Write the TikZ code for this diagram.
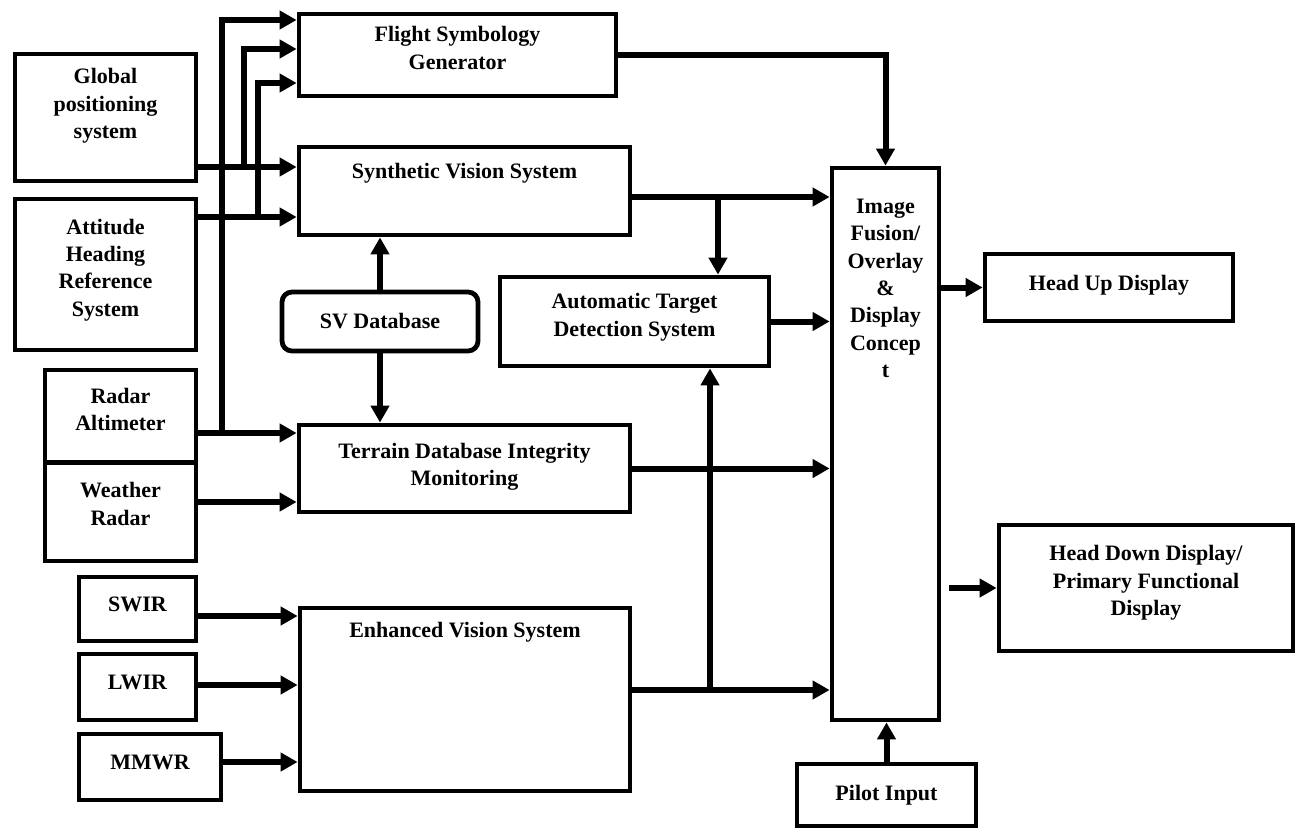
\documentclass[tikz,border=0pt]{standalone}
\usepackage{fontspec}
\setmainfont{Liberation Serif}
\usetikzlibrary{arrows.meta,positioning}

\begin{document}
\begin{tikzpicture}[
		x=0.5pt, y=-0.5pt,
		blk/.style={draw, line width=2.4pt, inner sep=2pt, align=center,
			font=\bfseries\fontsize{11}{13.7}\selectfont},
		txt/.style={inner sep=0pt, align=center,
			font=\bfseries\fontsize{11}{13.7}\selectfont},
		lift/.style={text depth=#1},                 % pushes the text a bit upwards in its box
		arr/.style={line width=3pt, -{Triangle[length=8.5pt,width=9pt]}}
	]
	\useasboundingbox (0,0) rectangle (1296,829);

	% sensors on the left
	\node[blk, minimum width=90.5pt, minimum height=63.5pt] (gps) at (105.5,117.5) {};
	\node[txt] (gpst) at (105.5,106) {Global\\positioning\\system};
	\node[blk, lift=7pt, minimum width=90.5pt, minimum height=75.5pt] (ahrs) at (105.5,274.5) {Attitude\\Heading\\Reference\\System};
	\node[blk, lift=7pt, minimum width=75.5pt, minimum height=46.25pt] (ralt) at (120.5,416.25) {Radar\\Altimeter};
	\node[blk, lift=8pt, minimum width=75.5pt, minimum height=49.25pt] (wrad) at (120.5,511.75) {Weather\\Radar};
	\node[blk, lift=5pt, minimum width=58.5pt, minimum height=32pt] (swir) at (137.5,609) {SWIR};
	\node[blk, lift=5pt, minimum width=58.5pt, minimum height=33pt] (lwir) at (137.5,687) {LWIR};
	\node[blk, lift=5pt, minimum width=71pt, minimum height=33pt] (mmwr) at (150,767) {MMWR};

	% processing blocks
	\node[blk, lift=7pt, minimum width=158.5pt, minimum height=41pt] (fsg) at (457.5,55) {Flight Symbology\\Generator};
	\node[blk, minimum width=165.5pt, minimum height=44pt] (svs) at (464.5,191) {};
	\node[txt] (svst) at (464.5,173) {Synthetic Vision System};
	\node[blk, rounded corners=5pt, minimum width=98pt, minimum height=29.5pt] (svdb) at (380,321.5) {SV Database};
	\node[blk, lift=4pt, minimum width=165.5pt, minimum height=43.5pt] (tdim) at (464.5,468.5) {Terrain Database Integrity\\Monitoring};
	\node[blk, minimum width=165pt, minimum height=91.5pt] (evs) at (465,699.5) {};
	\node[txt] (evst) at (465,632) {Enhanced Vision System};
	\node[blk, lift=6.5pt, minimum width=134.5pt, minimum height=44.5pt] (atds) at (634.5,321.5) {Automatic Target\\Detection System};

	% fusion and displays
	\node[blk, minimum width=53.5pt, minimum height=276pt] (fusion) at (885.5,444) {};
	\node[txt] (fusiont) at (885.5,288.5) {Image\\Fusion/\\Overlay\\\&\\Display\\Concep\\t};
	\node[blk, lift=5pt, minimum width=124pt, minimum height=33.5pt] (hud) at (1109,287.5) {Head Up Display};
	\node[blk, lift=7.5pt, minimum width=147pt, minimum height=63pt] (hdd) at (1146,588) {Head Down Display/\\Primary Functional\\Display};
	\node[blk, minimum width=89.5pt, minimum height=31pt] (pilot) at (886.5,795) {Pilot Input};

	% junctions
	\coordinate (jg) at (244,167);
	\coordinate (ja) at (258,217);
	\coordinate (jr) at (222,433);
	\coordinate (jgt) at (244,49);
	\coordinate (jat) at (258,83);
	\coordinate (jrt) at (222,20);
	\coordinate (yw) at (250,502);
	\coordinate (ys) at (250,616);
	\coordinate (yl) at (250,685);
	\coordinate (ym) at (250,762);
	\coordinate (js) at (718,197);
	\coordinate (je) at (710,690);

	% inputs
	\draw[arr] (gps.east |- jg) -- (svs.west |- jg);
	\draw[arr] (jg) |- (fsg.west |- jgt);
	\draw[arr] (ahrs.east |- ja) -- (svs.west |- ja);
	\draw[arr] (ja) |- (fsg.west |- jat);
	\draw[arr] (ralt.east |- jr) -- (tdim.west |- jr);
	\draw[arr] (jr) |- (fsg.west |- jrt);
	\draw[arr] (wrad.east |- yw) -- (tdim.west |- yw);
	\draw[arr] (swir.east |- ys) -- (evs.west |- ys);
	\draw[arr] (lwir.east |- yl) -- (evs.west |- yl);
	\draw[arr] (mmwr.east |- ym) -- (evs.west |- ym);
	\draw[arr] (svdb.north) -- (svdb.north |- svs.south);
	\draw[arr] (svdb.south) -- (svdb.south |- tdim.north);

	% into fusion
	\draw[arr] (fsg.east) -| (fusion.north);
	\draw[arr] (svs.east |- js) -- (fusion.west |- js);
	\draw[arr] (js) -- (atds.north -| js);
	\draw[arr] (atds.east) -- (fusion.west |- atds.east);
	\draw[arr] (tdim.east) -- (fusion.west |- tdim.east);
	\draw[arr] (evs.east |- je) -- (fusion.west |- je);
	\draw[arr] (je) -- (atds.south -| je);
	\draw[arr] (pilot.north) -- (pilot.north |- fusion.south);

	% outputs
	\draw[arr] (fusion.east |- hud.west) -- (hud.west);
	\draw[arr] ([xshift=4pt]fusion.east |- hdd.west) -- (hdd.west);
\end{tikzpicture}
\end{document}
